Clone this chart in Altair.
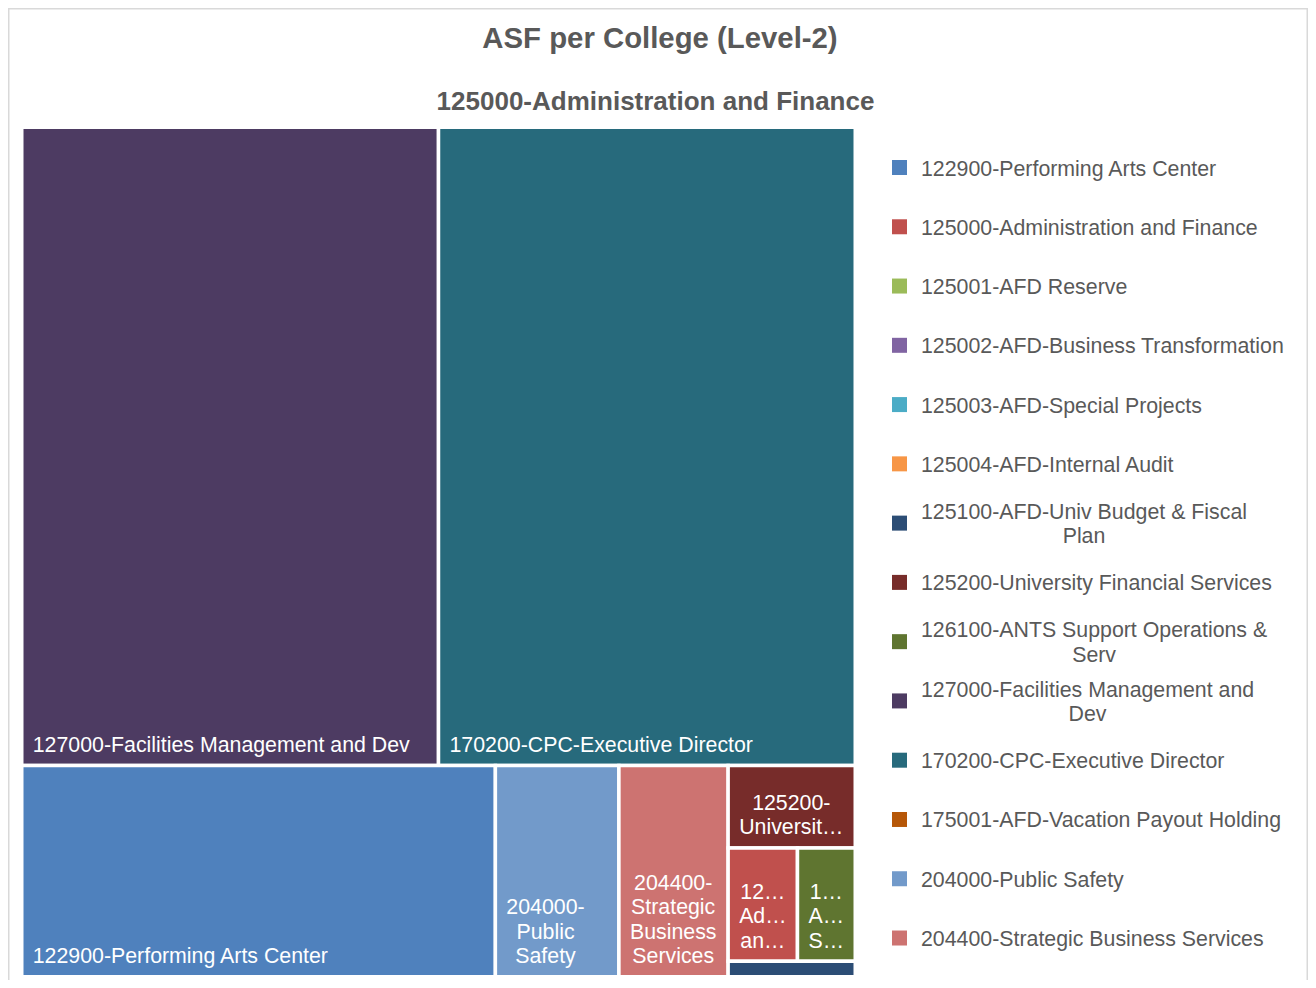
import altair as alt
import pandas as pd

# ---------------- data ----------------
names = [
    "122900-Performing Arts Center",
    "125000-Administration and Finance",
    "125001-AFD Reserve",
    "125002-AFD-Business Transformation",
    "125003-AFD-Special Projects",
    "125004-AFD-Internal Audit",
    "125100-AFD-Univ Budget & Fiscal Plan",
    "125200-University Financial Services",
    "126100-ANTS Support Operations & Serv",
    "127000-Facilities Management and Dev",
    "170200-CPC-Executive Director",
    "175001-AFD-Vacation Payout Holding",
    "204000-Public Safety",
    "204400-Strategic Business Services",
]
asf = [99300, 7800, 0, 0, 0, 0, 1950, 10400, 6500, 264000, 264000, 0, 25900, 22900]
colors = ["#4F81BD", "#C0504D", "#9BBB59", "#8064A2", "#4BACC6", "#F79646", "#2C4D75",
          "#772C2A", "#5F7530", "#4D3B62", "#276A7C", "#B65708", "#729ACA", "#CD7371"]
chart_title = "ASF per College (Level-2)"
group_title = "125000-Administration and Finance"

# ---------------- layout constants (page pixels) ----------------
OFF = 8
CW, CH = 1300, 972
TX0, TX1, TY0, TY1 = 21.75, 855.25, 127.25, 976.75   # treemap region
FS = 21.33
LH = 24.4
PADX, PADY = 10.5, 10
LEG_SYM_X, LEG_TXT_X, LEG_Y0, LEG_DY, LEG_W = 899.5, 921, 167.5, 59.27, 370

AW = {" ": 278, "!": 278, "&": 667, "(": 333, ")": 333, "-": 333, ".": 278, "…": 1000}
for d in "0123456789":
    AW[d] = 556
AW.update(dict(zip("ABCDEFGHIJKLMNOPQRSTUVWXYZ",
                   [667, 667, 722, 722, 667, 611, 778, 722, 278, 500, 667, 556, 833, 722,
                    778, 667, 778, 722, 667, 611, 722, 667, 944, 667, 667, 611])))
AW.update(dict(zip("abcdefghijklmnopqrstuvwxyz",
                   [556, 556, 500, 556, 556, 278, 556, 556, 222, 222, 500, 222, 833, 556,
                    556, 556, 556, 333, 500, 278, 556, 500, 722, 500, 500, 500])))


def text_w(s, size=FS):
    return sum(AW.get(c, 556) for c in s) * size / 1000.0


def tokens(s, hyphen=True):
    out, cur = [], ""
    for c in s:
        cur += c
        if c == " " or (hyphen and c == "-"):
            out.append(cur)
            cur = ""
    if cur:
        out.append(cur)
    return out


def fit_ellipsis(s, avail):
    s = s.rstrip()
    while s and text_w(s + "…") > avail:
        s = s[:-1]
    return s + "…" if s else ""


def wrap(s, avail, max_lines=None, hyphen=True, truncate=True):
    lines, line = [], ""
    for t in tokens(s, hyphen):
        if text_w((line + t).rstrip()) <= avail:
            line += t
        else:
            if line:
                lines.append(line.rstrip())
                line = ""
            if text_w(t.rstrip()) <= avail or not truncate:
                line = t
            else:
                lines.append(fit_ellipsis(t, avail))
    if line:
        lines.append(line.rstrip())
    if max_lines is not None and len(lines) > max_lines:
        lines = lines[:max_lines]
        if lines and not lines[-1].endswith("…"):
            lines[-1] = fit_ellipsis(lines[-1], avail)
    return [l for l in lines if l]


def worst(row, side):
    s = sum(row)
    return max(max(side * side * r / (s * s), s * s / (side * side * r)) for r in row)


def squarify(areas, x, y, dx, dy):
    rects, i, n = [], 0, len(areas)
    while i < n:
        side = min(dx, dy)
        row = [areas[i]]
        j = i + 1
        while j < n and worst(row + [areas[j]], side) <= worst(row, side):
            row.append(areas[j])
            j += 1
        s = sum(row)
        if dx <= dy:
            h = s / dx
            cx = x
            for a in row:
                w = a / h
                rects.append((cx, y, cx + w, y + h))
                cx += w
            y += h
            dy -= h
        else:
            w = s / dy
            cy = y
            for a in row:
                h = a / w
                rects.append((x, cy, x + w, cy + h))
                cy += h
            x += w
            dx -= w
        i = j
    return rects


# sort descending (stable), drop empty
items = [(n, v, c) for n, v, c in zip(names, asf, colors) if v > 0]
items = sorted(items, key=lambda t: -t[1])
tw, th = TX1 - TX0, TY1 - TY0
tot = sum(v for _, v, _ in items)
areas = [v * tw * th / tot for _, v, _ in items]
rects = squarify(areas, TX0, TY0, tw, th)

cell_rows, lab_rows = [], []
for (n, v, c), (x0, y0, x1, y1) in zip(items, rects):
    cell_rows.append(dict(name=n, asf=v, x0=x0 - OFF, x1=x1 - OFF, y0=y0 - OFF, y1=y1 - OFF))
    avail = (x1 - x0) - 2 * PADX
    maxl = int(((y1 - y0) - 2 * PADY) // LH)
    if maxl < 1:
        continue
    lines = wrap(n, avail, maxl)
    if not lines:
        continue
    bw = max(text_w(l) for l in lines)
    single = len(lines) == 1
    tx = x0 + 11 if single else x0 + 11 + bw / 2
    ty = y1 - 13.5 - (len(lines) - 1) * LH
    lab_rows.append(dict(text="\n".join(lines), x=tx - OFF, y=ty - OFF, single=single))

cells = pd.DataFrame(cell_rows)
labels = pd.DataFrame(lab_rows)

leg_rows = []
for i, n in enumerate(names):
    cy = LEG_Y0 + i * LEG_DY
    lines = wrap(n, LEG_W, hyphen=False, truncate=False)
    bw = max(text_w(l) for l in lines)
    single = len(lines) == 1
    tx = LEG_TXT_X if single else LEG_TXT_X + bw / 2
    ty = cy + 8 - (len(lines) - 1) * LH / 2
    leg_rows.append(dict(name=n, sx=LEG_SYM_X - OFF, sy=cy - OFF, text="\n".join(lines),
                         x=tx - OFF, y=ty - OFF, single=single))
legend = pd.DataFrame(leg_rows)

titles = pd.DataFrame([
    dict(text=chart_title, x=660 - OFF, y=48 - OFF, kind="t"),
    dict(text=group_title, x=655.5 - OFF, y=110 - OFF, kind="s"),
])

# outer frame of the chart card (bottom edge lies below the visible page)
frame = pd.DataFrame([dict(x0=0.75, x1=CW - 0.75, y0=0.75, y1=CH + 40)])

xs = alt.Scale(domain=[0, CW], nice=False, zero=False)
ys = alt.Scale(domain=[0, CH], nice=False, zero=False, reverse=True)
cscale = alt.Scale(domain=names, range=colors)
FONT = "Liberation Sans"

frame_layer = alt.Chart(frame).mark_rect(fillOpacity=0, stroke="#d9d9d9", strokeWidth=1.5).encode(
    x=alt.X("x0:Q", scale=xs, axis=None), x2="x1:Q",
    y=alt.Y("y0:Q", scale=ys, axis=None), y2="y1:Q",
)

rect_layer = alt.Chart(cells).mark_rect(stroke="white", strokeWidth=3.5).encode(
    x=alt.X("x0:Q", scale=xs, axis=None), x2="x1:Q",
    y=alt.Y("y0:Q", scale=ys, axis=None), y2="y1:Q",
    color=alt.Color("name:N", scale=cscale, legend=None),
    tooltip=["name:N", "asf:Q"],
)

def text_layer(df, filt, align, color, size=FS, weight="normal"):
    return alt.Chart(df).transform_filter(filt).mark_text(
        align=align, baseline="alphabetic", font=FONT, fontSize=size, fontWeight=weight,
        color=color, lineBreak="\n", lineHeight=LH,
    ).encode(x=alt.X("x:Q", scale=xs, axis=None), y=alt.Y("y:Q", scale=ys, axis=None),
             text="text:N")

lab_single = text_layer(labels, "datum.single", "left", "white")
lab_multi = text_layer(labels, "!datum.single", "center", "white")

leg_sym = alt.Chart(legend).mark_square(size=225, opacity=1).encode(
    x=alt.X("sx:Q", scale=xs, axis=None), y=alt.Y("sy:Q", scale=ys, axis=None),
    color=alt.Color("name:N", scale=cscale, legend=None),
)
leg_single = text_layer(legend, "datum.single", "left", "#595959")
leg_multi = text_layer(legend, "!datum.single", "center", "#595959")

title_main = text_layer(titles, "datum.kind == 't'", "center", "#595959", 29.33, "bold")
title_sub = text_layer(titles, "datum.kind == 's'", "center", "#595959", 26, "bold")

chart = alt.layer(
    frame_layer, rect_layer, lab_single, lab_multi, leg_sym, leg_single, leg_multi,
    title_main, title_sub
).properties(
    width=CW, height=CH, padding=0, autosize=alt.AutoSizeParams(type="none"),
    background="white",
).configure_view(stroke=None)

chart.save("out.html", embed_options={"renderer": "svg", "actions": False})
